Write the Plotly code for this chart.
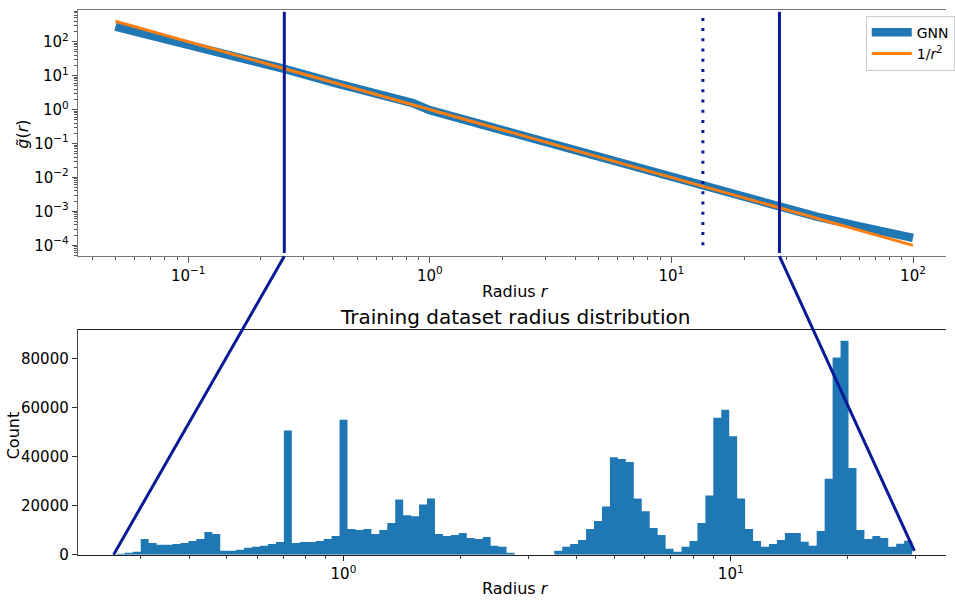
import numpy as np
import plotly.graph_objects as go

# ---------------- data ----------------
gnn_r = [0.05, 0.07, 0.1, 0.15, 0.25, 0.4, 0.55, 0.7, 0.85, 1.0, 1.2, 2, 4, 8, 14, 20, 28, 40, 60, 100]
gnn_g = [276, 155, 83, 40, 15.7, 6.25, 3.35, 2.14, 1.55, 0.96, 0.67, 0.25, 0.0625, 0.0156,
         0.0051, 0.0025, 0.00128, 0.00070, 0.00036, 0.000166]
ref_r = [0.05, 0.1, 1, 10, 100]
ref_g = [400, 100, 1, 0.01, 0.0001]

cutoff_r = [0.25, 28]          # solid vertical lines
cutoff_y = [5.9e-5, 760]
dotted_r = 13.5                # dotted vertical line
dotted_y = [1.0e-4, 700]
zoom_bottom_r = [0.255, 29.8]  # where the connecting lines meet the histogram axis
zoom_bottom_c = [0, 1500]

hist_lo, hist_hi, hist_nbins = 0.26, 29.4, 100
hist_counts = [
    400, 800, 1200, 6400, 4800, 4000, 4000, 4400, 4800, 5600,
    6400, 9250, 8450, 1600, 1600, 2000, 2800, 3200, 3600, 4400,
    5200, 50700, 4800, 5200, 5200, 5600, 6400, 7650, 55100, 10450,
    10050, 10450, 8450, 10050, 12900, 22500, 16100, 15700, 20500, 22900,
    8450, 7650, 8050, 8850, 6840, 6440, 7240, 3620, 3220, 800,
    0, 0, 0, 0, 0, 1600, 3200, 4400, 6000, 10450,
    13700, 19700, 39800, 39000, 37800, 22900, 17700, 10850, 8050, 2400,
    1200, 3200, 5600, 12900, 24100, 55900, 59100, 48300, 22900, 10450,
    5600, 3200, 4400, 6000, 8850, 8850, 5230, 3620, 9650, 31000,
    80500, 87300, 35400, 10050, 6440, 7650, 6840, 3220, 4420, 5630,
]

top_xticks = [0.1, 1, 10, 100]
top_xtext = ["10<sup>\u22121</sup>", "10<sup>0</sup>", "10<sup>1</sup>", "10<sup>2</sup>"]
top_yticks = [1e-4, 1e-3, 1e-2, 1e-1, 1, 10, 100]
top_ytext = ["10<sup>\u22124</sup>", "10<sup>\u22123</sup>", "10<sup>\u22122</sup>",
             "10<sup>\u22121</sup>", "10<sup>0</sup>", "10<sup>1</sup>", "10<sup>2</sup>"]
bot_xticks = [1, 10]
bot_xtext = ["10<sup>0</sup>", "10<sup>1</sup>"]
bot_yticks = [0, 20000, 40000, 60000, 80000]
bot_ytext = ["0", "20000", "40000", "60000", "80000"]

# ---------------- layout geometry (as fractions of a 955x608 page) ----------------
W, H = 955, 608
xdom = [79 / W, 1.0]
ydom_top = [1 - 260 / H, 1 - 10 / H]
ydom_bot = [1 - 563 / H, 1 - 335 / H]
xr_top = [-1.4549, 2.1365]
yr_top = [-4.319, 2.9376]
xr_bot = [-0.6847, 1.5558]
yr_bot = [0, 91660]

DARK = "#0a1a96"
BLUE = "#1f77b4"
ORANGE = "#ff7f0e"
FONT = "DejaVu Sans"


def minor_vals(lo, hi):
    out = []
    for k in range(lo, hi + 1):
        for d in range(2, 10):
            out.append(d * 10.0 ** k)
    return out


fig = go.Figure()

# top panel
fig.add_trace(go.Scatter(x=gnn_r, y=gnn_g, mode="lines", name="GNN",
                         line=dict(color=BLUE, width=8.5), xaxis="x", yaxis="y"))
fig.add_trace(go.Scatter(x=ref_r, y=ref_g, mode="lines", name="1/<i>r</i><sup>2</sup>",
                         line=dict(color=ORANGE, width=3), xaxis="x", yaxis="y"))
for r in cutoff_r:
    fig.add_trace(go.Scatter(x=[r, r], y=cutoff_y, mode="lines", showlegend=False,
                             line=dict(color=DARK, width=3), xaxis="x", yaxis="y",
                             hoverinfo="skip"))
fig.add_trace(go.Scatter(x=[dotted_r, dotted_r], y=dotted_y, mode="lines", showlegend=False,
                         line=dict(color=DARK, width=3, dash="3px,7.2px"), xaxis="x", yaxis="y",
                         hoverinfo="skip"))

# bottom panel: histogram as a filled step outline
edges = np.logspace(np.log10(hist_lo), np.log10(hist_hi), hist_nbins + 1)
step_y = list(hist_counts) + [hist_counts[-1]]
fig.add_trace(go.Scatter(x=edges, y=step_y, mode="lines", line_shape="hv",
                         line=dict(width=0, color=BLUE), fill="tozeroy", fillcolor=BLUE,
                         showlegend=False, xaxis="x2", yaxis="y2", hoverinfo="skip"))


def to_paper_x(v, rng):
    return xdom[0] + (np.log10(v) - rng[0]) / (rng[1] - rng[0]) * (xdom[1] - xdom[0])


def to_paper_ybot(c):
    return ydom_bot[0] + (c - yr_bot[0]) / (yr_bot[1] - yr_bot[0]) * (ydom_bot[1] - ydom_bot[0])


shapes = []
for i in range(2):
    shapes.append(dict(type="line", xref="paper", yref="paper",
                       x0=to_paper_x(cutoff_r[i], xr_top), y0=ydom_top[0],
                       x1=to_paper_x(zoom_bottom_r[i], xr_bot), y1=to_paper_ybot(zoom_bottom_c[i]),
                       line=dict(color=DARK, width=3)))

tickfont = dict(family=FONT, size=15, color="black")
common = dict(showgrid=False, zeroline=False, showline=True, ticks="outside",
              ticklen=5.5, tickwidth=1, tickfont=tickfont)


def label(text, x, y, size=16, angle=0):
    return dict(text=text, x=x / W, y=1 - y / H, xref="paper", yref="paper",
                xanchor="center", yanchor="middle", showarrow=False, textangle=angle,
                font=dict(family=FONT, size=size, color="black"))


annotations = [
    label("Radius <i>r</i>", 520, 296),
    label("Radius <i>r</i>", 520, 597),
    label("Training dataset radius distribution", 519.5, 322, size=20),
    label("<i>g\u0303</i>(<i>r</i>)", 23, 136, angle=-90),
    label("Count", 14, 442, angle=-90),
]

fig.update_layout(
    autosize=True,
    margin=dict(l=0, r=0, t=0, b=0, pad=0),
    paper_bgcolor="white", plot_bgcolor="white",
    font=dict(family=FONT, color="black"),
    showlegend=True,
    legend=dict(x=874 / W, y=1 - 16 / H, xanchor="left", yanchor="top",
                bgcolor="rgba(255,255,255,0.85)", bordercolor="#cccccc", borderwidth=1,
                font=dict(family=FONT, size=14, color="black"), itemwidth=40,
                tracegroupgap=0),
    xaxis=dict(type="log", range=xr_top, domain=xdom, anchor="y", tickvals=top_xticks,
               ticktext=top_xtext, linecolor="#777777", tickcolor="#555555", mirror=True,
               minor=dict(tickvals=minor_vals(-2, 2), ticks="outside", ticklen=3.2,
                          tickcolor="#555555"),
               **common),
    yaxis=dict(type="log", range=yr_top, domain=ydom_top, anchor="x", tickvals=top_yticks,
               ticktext=top_ytext, linecolor="#777777", tickcolor="#555555",
               minor=dict(tickvals=minor_vals(-5, 2), ticks="outside", ticklen=3.2,
                          tickcolor="#555555"),
               **common),
    xaxis2=dict(type="log", range=xr_bot, domain=xdom, anchor="y2", tickvals=bot_xticks,
                ticktext=bot_xtext, linecolor="#222222", tickcolor="#222222", mirror=True,
                minor=dict(tickvals=minor_vals(-1, 1), ticks="outside", ticklen=3.2,
                           tickcolor="#444444"),
                **common),
    yaxis2=dict(range=yr_bot, domain=ydom_bot, anchor="x2", tickvals=bot_yticks,
                ticktext=bot_ytext, linecolor="#444444", tickcolor="#333333", **common),
    shapes=shapes,
    annotations=annotations,
)

fig.write_html("out.html", default_width="100%", default_height="100%",
               config={"responsive": True, "displayModeBar": False})

# let the figure fill the whole browser window, with no page margin or scrollbars
with open("out.html", "r", encoding="utf-8") as f:
    html = f.read()
css = ("<style>html,body{margin:0;padding:0;width:100%;height:100%;overflow:hidden;}"
       "body>div{width:100%;height:100%;}</style>")
html = html.replace("<head>", "<head>" + css, 1)
with open("out.html", "w", encoding="utf-8") as f:
    f.write(html)
